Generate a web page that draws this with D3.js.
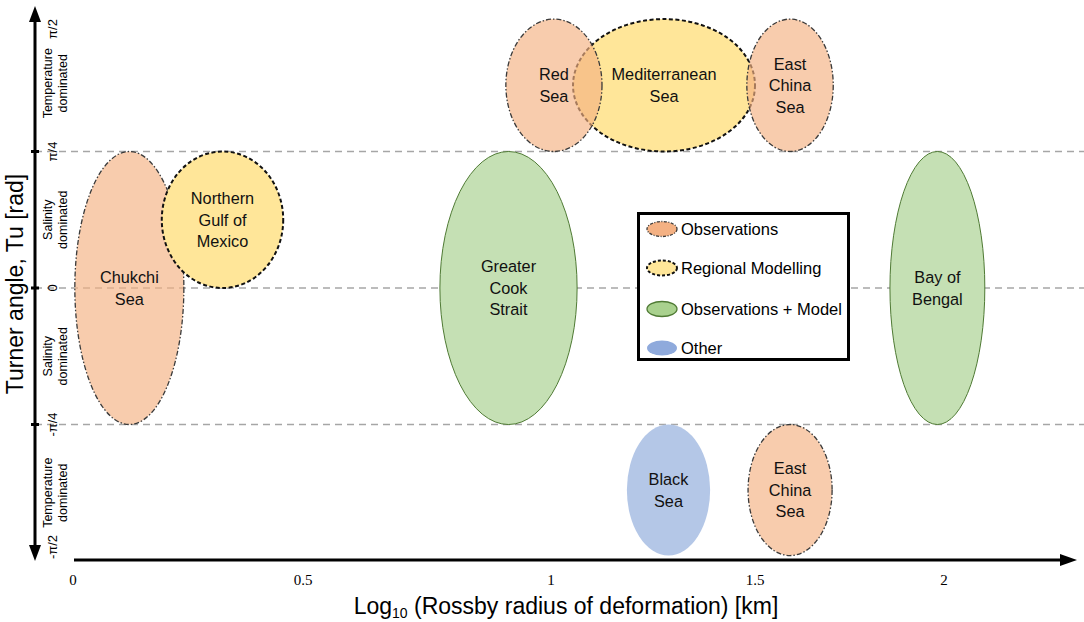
<!DOCTYPE html>
<html>
<head>
<meta charset="utf-8">
<script src="https://cdn.jsdelivr.net/npm/d3@7"></script>
<style>
  html, body { margin: 0; padding: 0; background: #fff; }
  svg { display: block; }
</style>
</head>
<body>
<svg id="chart" width="1084" height="622"></svg>
<script>
// ---------- data ----------
const regionNames = ["Chukchi Sea", "Northern Gulf of Mexico", "Greater Cook Strait", "Mediterranean Sea", "Red Sea", "East China Sea", "Bay of Bengal", "Black Sea", "East China Sea"];
const regionLines = [["Chukchi", "Sea"], ["Northern", "Gulf of", "Mexico"], ["Greater", "Cook", "Strait"], ["Mediterranean", "Sea"], ["Red", "Sea"], ["East", "China", "Sea"], ["Bay of", "Bengal"], ["Black", "Sea"], ["East", "China", "Sea"]];
const regionType = ["Observations", "Regional Modelling", "Observations + Model", "Regional Modelling", "Observations", "Observations", "Observations + Model", "Other", "Observations"];
// log10 Rossby radius range (km)
const logRMin = [0.004, 0.193, 0.776, 1.054, 0.909, 1.480, 1.857, 1.186, 1.483];
const logRMax = [0.241, 0.457, 1.064, 1.500, 1.125, 1.707, 2.108, 1.390, 1.704];
// Turner angle range, in units of pi/4
const tuMin = [-1, 0, -1, 1, 1, 1, -1, -1.96, -1.96];
const tuMax = [1, 1, 1, 1.97, 1.97, 1.97, 1, -1, -1];

const xTicks = [0, 0.5, 1, 1.5, 2];
const xTickLabels = ["0", "0.5", "1", "1.5", "2"];
const yTicks = [2, 1, 0, -1, -2];               // units of pi/4
const yTickLabels = ["π/2", "π/4", "0", "-π/4", "-π/2"];
const bandCenters = [1.5, 0.5, -0.5, -1.5];
const bandLabels = [["Temperature", "dominated"], ["Salinity", "dominated"], ["Salinity", "dominated"], ["Temperature", "dominated"]];
const gridLevels = [1, 0, -1];

const legendTypes = ["Observations", "Regional Modelling", "Observations + Model", "Other"];

// ---------- styles ----------
const FONT = "'Liberation Sans', Arial, sans-serif";
const fillColor = {"Observations": "#f4b183", "Regional Modelling": "#ffe699", "Observations + Model": "#c5e0b4", "Other": "#b4c7e7"};
const fillOpacity = {"Observations": 0.66, "Regional Modelling": 1, "Observations + Model": 1, "Other": 1};
const legendFill = {"Observations": "#f4b183", "Regional Modelling": "#ffe699", "Observations + Model": "#a9d18e", "Other": "#8faadc"};
const strokeColor = {"Observations": "#3a3a3a", "Regional Modelling": "#111", "Observations + Model": "#4f7a34", "Other": "none"};
const strokeDash = {"Observations": "5,2,1.5,2", "Regional Modelling": "4,2.5", "Observations + Model": null, "Other": null};
const strokeW = {"Observations": 1.3, "Regional Modelling": 2, "Observations + Model": 1, "Other": 0};

// ---------- scales ----------
const x = d3.scaleLinear().domain([0, 0.5, 1, 1.5, 2]).range([73, 303, 551, 755, 944]);
const y = d3.scaleLinear().domain([-2, 2]).range([561, 15]);

const svg = d3.select("#chart");
const axisX = 35, axisY = 560;

// grid lines
svg.append("g").selectAll("line").data(gridLevels).join("line")
  .attr("x1", axisX).attr("x2", 1084)
  .attr("y1", d => y(d)).attr("y2", d => y(d))
  .attr("stroke", "#a6a6a6").attr("stroke-width", 1.3).attr("stroke-dasharray", "7,5");

// ellipses
const idx = d3.range(regionNames.length);
const eg = svg.append("g");
idx.forEach(i => {
  const cx = (x(logRMin[i]) + x(logRMax[i])) / 2;
  const cy = (y(tuMin[i]) + y(tuMax[i])) / 2;
  const rx = Math.abs(x(logRMax[i]) - x(logRMin[i])) / 2;
  const ry = Math.abs(y(tuMax[i]) - y(tuMin[i])) / 2;
  const t = regionType[i];
  const el = eg.append("ellipse")
    .attr("cx", cx).attr("cy", cy).attr("rx", rx).attr("ry", ry)
    .attr("fill", fillColor[t]).attr("fill-opacity", fillOpacity[t])
    .attr("stroke", strokeColor[t]).attr("stroke-width", strokeW[t]);
  if (strokeDash[t]) el.attr("stroke-dasharray", strokeDash[t]);
});
// labels
idx.forEach(i => {
  const cx = (x(logRMin[i]) + x(logRMax[i])) / 2;
  const cy = (y(tuMin[i]) + y(tuMax[i])) / 2;
  const lines = regionLines[i];
  const lh = 21.5;
  const txt = svg.append("text")
    .attr("x", cx).attr("text-anchor", "middle")
    .attr("font-family", FONT).attr("font-size", 16.3).attr("fill", "#111");
  lines.forEach((l, k) => {
    txt.append("tspan").attr("x", cx)
      .attr("y", cy + (k - (lines.length - 1) / 2) * lh + 5.8)
      .text(l);
  });
});

// y axis
svg.append("line").attr("x1", axisX).attr("x2", axisX).attr("y1", 20).attr("y2", 548)
  .attr("stroke", "#000").attr("stroke-width", 3);
svg.append("path").attr("d", `M${axisX},6 L${axisX - 6},22 L${axisX + 6},22 Z`).attr("fill", "#000");
svg.append("path").attr("d", `M${axisX},561 L${axisX - 6},545 L${axisX + 6},545 Z`).attr("fill", "#000");
svg.append("g").selectAll("line").data([1, 0, -1]).join("line")
  .attr("x1", axisX - 4).attr("x2", axisX + 4).attr("y1", d => y(d)).attr("y2", d => y(d))
  .attr("stroke", "#000").attr("stroke-width", 3);
svg.append("g").selectAll("text").data(yTicks).join("text")
  .attr("transform", (d, i) => `translate(57,${i === 0 ? y(d) + 14 : (i === 4 ? y(d) - 14 : y(d))}) rotate(-90)`)
  .attr("text-anchor", "middle")
  .attr("font-family", FONT).attr("font-size", 13)
  .text((d, i) => yTickLabels[i]);
bandCenters.forEach((b, i) => {
  const t = svg.append("text")
    .attr("transform", `translate(52,${y(b)}) rotate(-90)`)
    .attr("text-anchor", "middle")
    .attr("font-family", FONT).attr("font-size", 12.5);
  bandLabels[i].forEach((l, k) => t.append("tspan").attr("x", 0).attr("y", k * 15).text(l));
});
svg.append("text")
  .attr("transform", `translate(23,284) rotate(-90)`)
  .attr("text-anchor", "middle")
  .attr("font-family", FONT).attr("font-size", 23)
  .text("Turner angle, Tu [rad]");

// x axis
svg.append("line").attr("x1", 74).attr("x2", 1062).attr("y1", axisY).attr("y2", axisY)
  .attr("stroke", "#000").attr("stroke-width", 3.2);
svg.append("path").attr("d", `M1077,${axisY} L1060,${axisY - 6} L1060,${axisY + 6} Z`).attr("fill", "#000");
svg.append("g").selectAll("text").data(xTicks).join("text")
  .attr("x", d => x(d)).attr("y", 585).attr("text-anchor", "middle")
  .attr("font-family", "'Liberation Serif', 'Times New Roman', serif").attr("font-size", 15)
  .text((d, i) => xTickLabels[i]);
const xt = svg.append("text").attr("x", 566).attr("y", 614).attr("text-anchor", "middle")
  .attr("font-family", FONT).attr("font-size", 23);
xt.append("tspan").text("Log");
xt.append("tspan").attr("font-size", 14).attr("dy", 4).text("10");
xt.append("tspan").attr("dy", -4).text(" (Rossby radius of deformation) [km]");

// legend
const lg = svg.append("g");
lg.append("rect").attr("x", 638.5).attr("y", 213.5).attr("width", 210).attr("height", 146)
  .attr("fill", "#fff").attr("stroke", "#000").attr("stroke-width", 3);
const legendY = [229, 268, 309, 348];
legendTypes.forEach((t, i) => {
  const e = lg.append("ellipse").attr("cx", 662).attr("cy", legendY[i]).attr("rx", 15).attr("ry", 7.5)
    .attr("fill", legendFill[t]).attr("stroke", strokeColor[t]).attr("stroke-width", t === "Observations + Model" ? 1.3 : strokeW[t]);
  if (strokeDash[t]) e.attr("stroke-dasharray", t === "Regional Modelling" ? "3,2" : "3,1.5,1,1.5");
  lg.append("text").attr("x", 681).attr("y", legendY[i] + 6)
    .attr("font-family", FONT).attr("font-size", 16.5)
    .text(t);
});
</script>
</body>
</html>
